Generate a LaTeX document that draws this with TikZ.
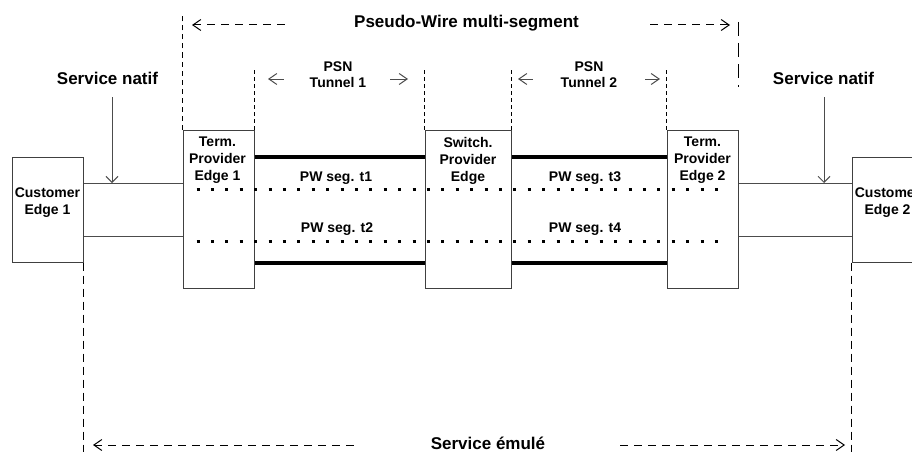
\documentclass[tikz,border=0pt]{standalone}
\usepackage{fontspec}
\setmainfont{Liberation Sans}
\usepackage{tikz}
\usetikzlibrary{arrows.meta,calc}
\colorlet{boxgray}{black!75}
\colorlet{linegray}{black!70}
\tikzset{
  pebox/.style={draw=boxgray,line width=1pt,minimum width=71pt,minimum height=158pt,inner sep=0pt},
  cebox/.style={pebox,minimum height=105pt},
  boxtext/.style={font=\bfseries\fontsize{14}{17}\selectfont,align=center,inner sep=0pt,anchor=north},
  tuntext/.style={boxtext,font=\bfseries\fontsize{14}{16}\selectfont},
  segtext/.style={font=\bfseries\fontsize{14}{17}\selectfont,inner sep=0pt,anchor=base},
  bigtext/.style={font=\bfseries\fontsize{17}{20}\selectfont,inner sep=0pt,anchor=base},
  acc/.style={line width=1pt,linegray},
  tunnel/.style={line width=4pt},
  pwdots/.style={line width=3pt,dash pattern=on 3pt off 11.4pt},
  vdash/.style={line width=1pt,dash pattern=on 5pt off 4pt},
  hdash/.style={line width=1pt,dash pattern=on 8pt off 6pt},
  dimtip/.style={line width=1pt,linegray}
}

\begin{document}
\begin{tikzpicture}[x=1pt,y=-1pt,>={Straight Barb[length=8pt,width=11pt]}]
\path[use as bounding box] (0,0) rectangle (912,452);
\clip (0,0) rectangle (912,452);
% boxes
\node[cebox] (ce1) at (47.5,209.5) {};
\node[pebox] (tpe1) at (218.5,209) {};
\node[pebox,minimum width=86pt] (spe) at (468,209) {};
\node[pebox] (tpe2) at (702.5,209) {};
\node[cebox] (ce2) at (887.5,209.5) {};
\node[boxtext] (ce1txt) at (47.5,188) {Customer\\Edge 1};
\node[boxtext] (tpe1txt) at (217.5,137) {Term.\\Provider\\Edge 1};
\node[boxtext] (spetxt) at (468,137) {Switch.\\Provider\\Edge};
\node[boxtext] (tpe2txt) at (702.5,137) {Term.\\Provider\\Edge 2};
\node[boxtext] (ce2txt) at (887.5,188) {Customer\\Edge 2};
% rows
\coordinate (acc1) at (0,183); \coordinate (acc2) at (0,236);
\coordinate (tun1) at (0,157); \coordinate (tun2) at (0,263);
\coordinate (seg1) at (0,189); \coordinate (seg2) at (0,241);
\foreach \r in {acc1,acc2}{
  \draw[acc] (ce1.east |- \r) -- (tpe1.west |- \r);
  \draw[acc] (tpe2.east |- \r) -- (ce2.west |- \r);}
\foreach \r in {tun1,tun2}{
  \draw[tunnel] (tpe1.east |- \r) -- (spe.west |- \r);
  \draw[tunnel] (spe.east |- \r) -- (tpe2.west |- \r);}
\foreach \r in {seg1,seg2}
  \draw[pwdots] ([xshift=14pt]tpe1.west |- \r) -- ([xshift=-10pt]tpe2.east |- \r);
\node[segtext] (t1) at (336,181) {PW seg. t1};
\node[segtext] (t2) at (337,232) {PW seg. t2};
\node[segtext] (t3) at (585,181) {PW seg. t3};
\node[segtext] (t4) at (585,232) {PW seg. t4};
% service natif
\node[bigtext] (nat1) at (107.5,84) {Service natif};
\node[bigtext] (nat2) at (823.5,84) {Service natif};
\coordinate (natsrc1) at (112,97); \coordinate (natsrc2) at (824,97);
\draw[acc,-{Straight Barb[length=6pt,width=12pt]}] (natsrc1) -- (natsrc1 |- acc1);
\draw[acc,-{Straight Barb[length=6pt,width=12pt]}] (natsrc2) -- (natsrc2 |- acc1);
% pseudo-wire multi-segment
\node[bigtext] (pw) at (466.5,28) {Pseudo-Wire multi-segment};
\draw[vdash] (tpe1.north west) -- ++(0,-113);
\draw[vdash,dash pattern=on 14pt off 7pt] (tpe2.east |- 0,22) -- (tpe2.east |- 0,87);
\draw[hdash,<-] (192,25) -- (287,25);
\draw[hdash,->] (650,25) -- (730,25);
% PSN tunnels
\node[tuntext] (psn1) at (338,62) {PSN\\Tunnel 1};
\node[tuntext] (psn2) at (589,62) {PSN\\Tunnel 2};
\foreach \n/\a in {tpe1/east,spe/west,spe/east,tpe2/west}
  \draw[vdash,dash pattern=on 4pt off 3pt] (\n.north \a) -- ++(0,-60);
\draw[dimtip,<-] (268,79) -- (284,79); \draw[dimtip,->] (390,79) -- (408,79);
\draw[dimtip,<-] (518,79) -- (533,79); \draw[dimtip,->] (645,79) -- (660,79);
% service emule
\node[bigtext] (emu) at (488,449) {Service émulé};
\draw[vdash,dash pattern=on 8pt off 5pt] (ce1.south east) -- (ce1.east |- 0,452);
\draw[vdash,dash pattern=on 8pt off 5pt] (ce2.south west) -- (ce2.west |- 0,452);
\draw[hdash,<-] (93,445) -- (358,445);
\draw[hdash,->] (620,445) -- (845,445);
\end{tikzpicture}
\end{document}
